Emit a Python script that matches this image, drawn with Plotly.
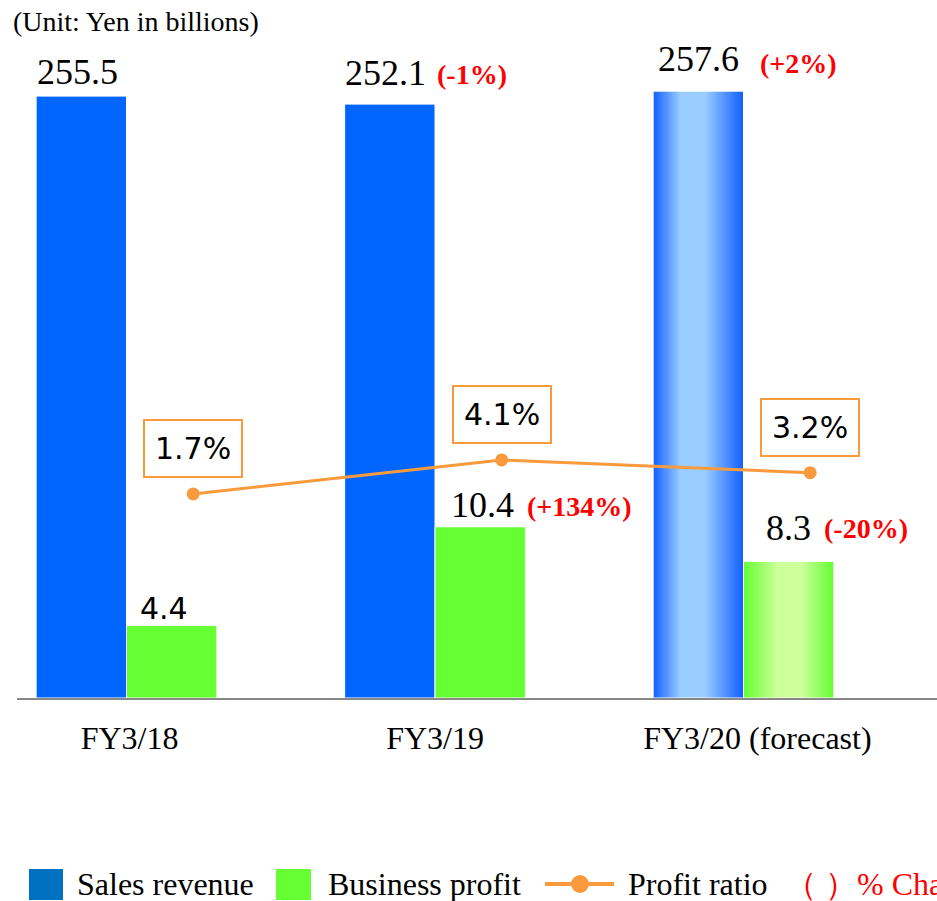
import numpy as np
import plotly.graph_objects as go

# ---------------- data ----------------
categories = ["FY3/18", "FY3/19", "FY3/20 (forecast)"]
sales_revenue = [255.5, 252.1, 257.6]
business_profit = [4.4, 10.4, 8.3]
profit_ratio = [1.7, 4.1, 3.2]
sales_change = [None, "(-1%)", "(+2%)"]
profit_change = [None, "(+134%)", "(-20%)"]
forecast = [False, False, True]

# ---------------- styles ----------------
W, H = 937, 901
ML, MR, MT, MB = 17, 0, 0, 203
PW, PH = W - ML - MR, H - MT - MB
CAT_PX = 308.5
BAR_W = 0.293
LINE_OFF = 0.216
X_RANGE = [-0.355, -0.355 + PW / CAT_PX]
TICK_NUDGE = [0.01, 0.0, 0.045]
Y_SALES = [0, 296.3]
Y_PROFIT = [0, 42.4]
Y_RATIO = [-12.7, 36.56]

BLUE = "#0066FF"
GREEN = "#66FF33"
ORANGE = "#F99A3C"
RED = "#FF0000"
SERIF = "Liberation Serif, Times New Roman, serif"
SANS = "DejaVu Sans, Verdana, sans-serif"

# per-label pixel nudges (x shift, y shift above bar top) and fonts
sales_lbl_style = [(-4, 24, SERIF), (-4, 31, SERIF), (0, 32, SERIF)]
profit_lbl_style = [(-8, 17, SANS), (2, 22, SERIF), (0, 33, SERIF)]
sales_chg_style = [None, (0, 30), (14, 28)]
profit_chg_style = [None, (0, 20), (-12, 33)]


def px_x(px):
    return (px - ML) / PW


def px_y(py):
    return (H - MB - py) / PH


idx = list(range(len(categories)))
fig = go.Figure()

# gradient fills for forecast bars (heatmaps sit below bars in a subplot)
N = 80
blue_scale = [[0, "#1460FF"], [0.3, "#99CCFF"], [0.58, "#99CCFF"], [1, "#1460FF"]]
green_scale = [[0, "#66FF33"], [0.38, "#CCFF99"], [0.65, "#CCFF99"], [1, "#66FF33"]]
for i in idx:
    if forecast[i]:
        fig.add_trace(go.Heatmap(
            x=np.linspace(i - BAR_W, i, N + 1), y=[0, sales_revenue[i]],
            z=[np.linspace(0, 1, N)], colorscale=blue_scale, zmin=0, zmax=1,
            showscale=False, hoverinfo="skip", yaxis="y"))
        fig.add_trace(go.Heatmap(
            x=np.linspace(i, i + BAR_W, N + 1), y=[0, business_profit[i]],
            z=[np.linspace(0, 1, N)], colorscale=green_scale, zmin=0, zmax=1,
            showscale=False, hoverinfo="skip", yaxis="y2"))

fig.add_trace(go.Bar(
    x=idx, y=sales_revenue, name="Sales revenue", width=BAR_W, offset=-BAR_W,
    marker=dict(color=["rgba(0,0,0,0)" if f else BLUE for f in forecast],
                line=dict(color="white", width=1)),
    yaxis="y", showlegend=False))
fig.add_trace(go.Bar(
    x=idx, y=business_profit, name="Business profit", width=BAR_W, offset=0,
    marker=dict(color=["rgba(0,0,0,0)" if f else GREEN for f in forecast],
                line=dict(color="white", width=1)),
    yaxis="y2", showlegend=False))
fig.add_trace(go.Scatter(
    x=[i + LINE_OFF for i in idx], y=profit_ratio, name="Profit ratio",
    mode="lines+markers", line=dict(color=ORANGE, width=3),
    marker=dict(color=ORANGE, size=13), yaxis="y3", showlegend=False))

ann = []
for i in idx:
    xs, ys, fnt = sales_lbl_style[i]
    ann.append(dict(x=i - BAR_W / 2, y=sales_revenue[i], xref="x", yref="y",
                    text=f"{sales_revenue[i]:.1f}", showarrow=False,
                    xshift=xs, yshift=ys, yanchor="middle",
                    font=dict(family=fnt, size=36, color="black")))
    xs, ys, fnt = profit_lbl_style[i]
    ann.append(dict(x=i + BAR_W / 2, y=business_profit[i], xref="x", yref="y2",
                    text=f"{business_profit[i]:.1f}", showarrow=False,
                    xshift=xs, yshift=ys, yanchor="middle",
                    font=dict(family=fnt, size=36 if fnt == SERIF else 30, color="black")))
    if sales_change[i]:
        xs, ys = sales_chg_style[i]
        ann.append(dict(x=i, y=sales_revenue[i], xref="x", yref="y",
                        text=f"<b>{sales_change[i]}</b>", showarrow=False,
                        xanchor="left", xshift=xs, yshift=ys, yanchor="middle",
                        font=dict(family=SERIF, size=28, color=RED)))
    if profit_change[i]:
        xs, ys = profit_chg_style[i]
        ann.append(dict(x=i + BAR_W, y=business_profit[i], xref="x", yref="y2",
                        text=f"<b>{profit_change[i]}</b>", showarrow=False,
                        xanchor="left", xshift=xs, yshift=ys, yanchor="middle",
                        font=dict(family=SERIF, size=28, color=RED)))
    ann.append(dict(x=i + LINE_OFF, y=profit_ratio[i], xref="x", yref="y3",
                    text=f"{profit_ratio[i]:.1f}%", showarrow=False, yshift=45,
                    yanchor="middle", bordercolor=ORANGE, borderwidth=2,
                    borderpad=10, bgcolor="white",
                    font=dict(family=SANS, size=30, color="black")))

# unit note
ann.append(dict(x=px_x(11), y=px_y(21), xref="paper", yref="paper",
                text="(Unit: Yen in billions)", showarrow=False,
                xanchor="left", yanchor="middle",
                font=dict(family=SERIF, size=28, color="black")))

# legend drawn manually
LEG_Y = 884
shapes = [
    dict(type="rect", xref="paper", yref="paper", x0=px_x(29), x1=px_x(63),
         y0=px_y(900), y1=px_y(869), fillcolor="#0070C0", line=dict(width=0)),
    dict(type="rect", xref="paper", yref="paper", x0=px_x(276), x1=px_x(311),
         y0=px_y(900), y1=px_y(869), fillcolor=GREEN, line=dict(width=0)),
    dict(type="line", xref="paper", yref="paper", x0=px_x(545), x1=px_x(614),
         y0=px_y(LEG_Y), y1=px_y(LEG_Y), line=dict(color=ORANGE, width=4)),
    dict(type="circle", xref="paper", yref="paper", x0=px_x(571), x1=px_x(589),
         y0=px_y(LEG_Y + 9), y1=px_y(LEG_Y - 9), fillcolor=ORANGE,
         line=dict(width=0)),
]
for txt, xp, col in [("Sales revenue", 75, "black"),
                     ("Business profit", 326, "black"),
                     ("Profit ratio", 626, "black"),
                     ("（ ）% Change", 783, RED)]:
    ann.append(dict(x=px_x(xp), y=px_y(LEG_Y), xref="paper", yref="paper",
                    text=txt, showarrow=False, xanchor="left", yanchor="middle",
                    font=dict(family=SERIF, size=32, color=col)))

fig.update_layout(
    width=W, height=H, margin=dict(l=ML, r=MR, t=MT, b=MB, pad=0),
    plot_bgcolor="white", paper_bgcolor="white", showlegend=False,
    barmode="overlay",
    xaxis=dict(range=X_RANGE, tickvals=[i + TICK_NUDGE[i] for i in idx],
               ticktext=categories,
               showline=True, linecolor="#888888", linewidth=2,
               showgrid=False, zeroline=False, ticks="",
               tickfont=dict(family=SERIF, size=32, color="black"),
               ticklabelstandoff=11),
    yaxis=dict(range=Y_SALES, visible=False, showgrid=False, fixedrange=True),
    yaxis2=dict(range=Y_PROFIT, overlaying="y", visible=False, showgrid=False),
    yaxis3=dict(range=Y_RATIO, overlaying="y", visible=False, showgrid=False),
    annotations=ann, shapes=shapes,
)

fig.write_html("out.html",
               config={"displayModeBar": False},
               post_script="document.body.style.margin='0';"
                           "document.body.style.overflow='hidden';")
